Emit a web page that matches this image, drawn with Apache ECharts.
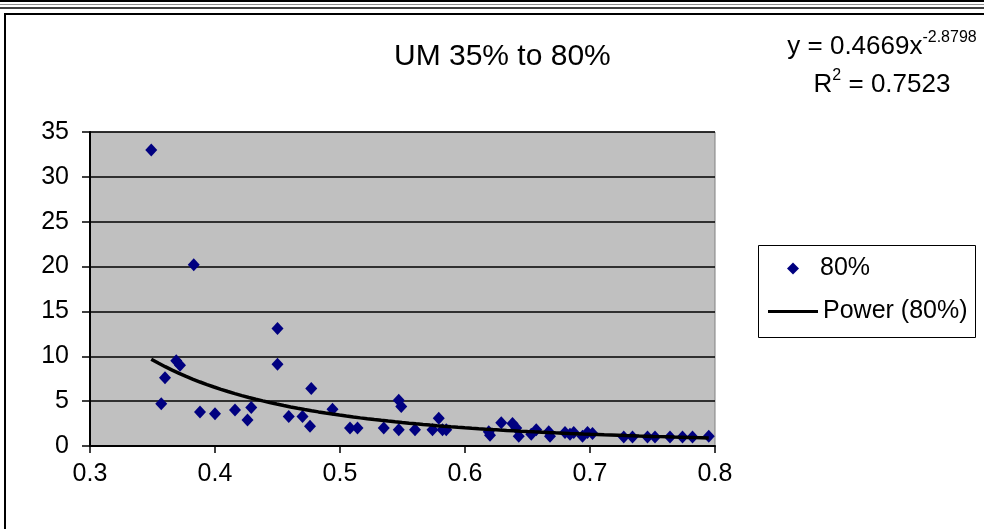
<!DOCTYPE html>
<html>
<head>
<meta charset="utf-8">
<script src="https://cdn.jsdelivr.net/npm/echarts@6/dist/echarts.min.js"></script>
<style>
  html, body { margin: 0; padding: 0; background: #ffffff; }
  #chart { width: 984px; height: 529px; }
</style>
</head>
<body>
<div id="chart"></div>
<script>
// ---- data ----
const xValues = [0.349, 0.357, 0.360, 0.369, 0.372, 0.383, 0.388, 0.400, 0.416, 0.426,
                 0.429, 0.450, 0.450, 0.459, 0.470, 0.476, 0.477, 0.494, 0.508, 0.514,
                 0.535, 0.547, 0.549, 0.547, 0.560, 0.574, 0.579, 0.582, 0.585, 0.619,
                 0.620, 0.629, 0.638, 0.641, 0.643, 0.653, 0.657, 0.667, 0.668, 0.680,
                 0.684, 0.687, 0.694, 0.698, 0.702, 0.727, 0.734, 0.746, 0.752, 0.764,
                 0.774, 0.782, 0.795];
const yValues = [33.0, 4.7, 7.6, 9.5, 9.0, 20.2, 3.8, 3.6, 4.0, 2.9,
                 4.3, 13.1, 9.1, 3.3, 3.3, 2.2, 6.4, 4.1, 2.0, 2.0,
                 2.0, 5.1, 4.4, 1.8, 1.8, 1.8, 3.1, 1.8, 1.8, 1.6,
                 1.2, 2.6, 2.5, 2.0, 1.1, 1.3, 1.8, 1.6, 1.1, 1.5,
                 1.3, 1.5, 1.1, 1.5, 1.4, 1.0, 1.0, 1.0, 1.0, 1.0,
                 1.0, 1.0, 1.1];
const seriesName = '80%';
const trendName = 'Power (80%)';
const titleText = 'UM 35% to 80%';
// power trendline as printed on the chart: y = 0.4669 x^-2.8798, R^2 = 0.7523
const trendA = 0.4669;
const trendB = -2.8798;
const trendR2 = '0.7523';
const xTicks = [0.3, 0.4, 0.5, 0.6, 0.7, 0.8];
const yTicks = [0, 5, 10, 15, 20, 25, 30, 35];

// ---- build series data ----
const scatterData = xValues.map((x, i) => [x, yValues[i]]);
const xMinData = Math.min.apply(null, xValues);
const xMaxData = Math.max.apply(null, xValues);
const trendData = [];
const steps = 80;
for (let i = 0; i <= steps; i++) {
  const x = xMinData + (xMaxData - xMinData) * i / steps;
  trendData.push([x, trendA * Math.pow(x, trendB)]);
}

const FONT = 'Liberation Sans, Arial, sans-serif';
const chart = echarts.init(document.getElementById('chart'), null, { renderer: 'canvas' });

chart.setOption({
  animation: false,
  backgroundColor: '#ffffff',
  title: {
    text: titleText,
    left: 389,
    top: 37,
    textStyle: { fontFamily: FONT, fontSize: 30, fontWeight: 'normal', color: '#000000' }
  },
  grid: {
    left: 90, right: 269, top: 132, bottom: 83,
    show: true, backgroundColor: '#C0C0C0', borderColor: '#808080', borderWidth: 1
  },
  xAxis: {
    type: 'value',
    min: xTicks[0], max: xTicks[xTicks.length - 1], interval: 0.1,
    axisLine: { show: true, onZero: false, lineStyle: { color: '#000000', width: 2 } },
    axisTick: { show: true, length: 7, lineStyle: { color: '#000000', width: 1.5 } },
    splitLine: { show: false },
    axisLabel: {
      margin: 16, color: '#000000', fontFamily: FONT, fontSize: 25,
      formatter: v => v.toFixed(1)
    }
  },
  yAxis: {
    type: 'value',
    min: yTicks[0], max: yTicks[yTicks.length - 1], interval: 5,
    axisLine: { show: true, onZero: false, lineStyle: { color: '#000000', width: 2 } },
    axisTick: { show: true, length: 8, lineStyle: { color: '#000000', width: 1.5 } },
    splitLine: { show: true, lineStyle: { color: '#000000', width: 1.5 } },
    axisLabel: { margin: 21, color: '#000000', fontFamily: FONT, fontSize: 25 }
  },
  legend: [
    {
      orient: 'vertical',
      left: 787, top: 256,
      padding: 0,
      itemWidth: 12, itemHeight: 12,
      selectedMode: false,
      textStyle: { fontFamily: FONT, fontSize: 25, color: '#000000', padding: [0, 0, 0, 16] },
      data: [{ name: seriesName, icon: 'diamond' }]
    },
    {
      orient: 'vertical',
      left: 768, top: 299,
      padding: 0,
      itemWidth: 50, itemHeight: 3,
      selectedMode: false,
      textStyle: { fontFamily: FONT, fontSize: 25, color: '#000000' },
      data: [{ name: trendName, icon: 'rect' }]
    }
  ],
  series: [
    {
      name: seriesName,
      type: 'scatter',
      data: scatterData,
      symbol: 'diamond',
      symbolSize: [12, 13],
      itemStyle: { color: '#000080', opacity: 1 },
      z: 2
    },
    {
      name: trendName,
      type: 'line',
      data: trendData,
      symbol: 'none',
      smooth: false,
      lineStyle: { color: '#000000', width: 3.5 },
      itemStyle: { color: '#000000' },
      z: 3
    }
  ],
  graphic: [
    { type: 'line', shape: { x1: 0, y1: 1, x2: 984, y2: 1 }, style: { stroke: '#000000', lineWidth: 2 } },
    { type: 'line', shape: { x1: 0, y1: 4.5, x2: 984, y2: 4.5 }, style: { stroke: '#909090', lineWidth: 1 } },
    { type: 'line', shape: { x1: 0, y1: 8, x2: 984, y2: 8 }, style: { stroke: '#000000', lineWidth: 1.5 } },
    { type: 'rect', shape: { x: 5, y: 14, width: 1000, height: 540 }, style: { fill: null, stroke: '#000000', lineWidth: 2 } },
    { type: 'rect', shape: { x: 758.5, y: 245.5, width: 217, height: 92 }, style: { fill: null, stroke: '#000000', lineWidth: 1 } },
    {
      type: 'text', x: 882, y: 45,
      style: {
        text: '{a|y = ' + trendA + 'x}{s|' + trendB + '}',
        align: 'center', verticalAlign: 'middle',
        rich: {
          a: { fontFamily: FONT, fontSize: 26, fill: '#000000', verticalAlign: 'bottom', lineHeight: 30 },
          s: { fontFamily: FONT, fontSize: 16, fill: '#000000', verticalAlign: 'top', lineHeight: 30 }
        }
      }
    },
    {
      type: 'text', x: 882, y: 83,
      style: {
        text: '{a|R}{s|2}{a| = ' + trendR2 + '}',
        align: 'center', verticalAlign: 'middle',
        rich: {
          a: { fontFamily: FONT, fontSize: 26, fill: '#000000', verticalAlign: 'bottom', lineHeight: 30 },
          s: { fontFamily: FONT, fontSize: 16, fill: '#000000', verticalAlign: 'top', lineHeight: 30 }
        }
      }
    }
  ]
});
</script>
</body>
</html>
